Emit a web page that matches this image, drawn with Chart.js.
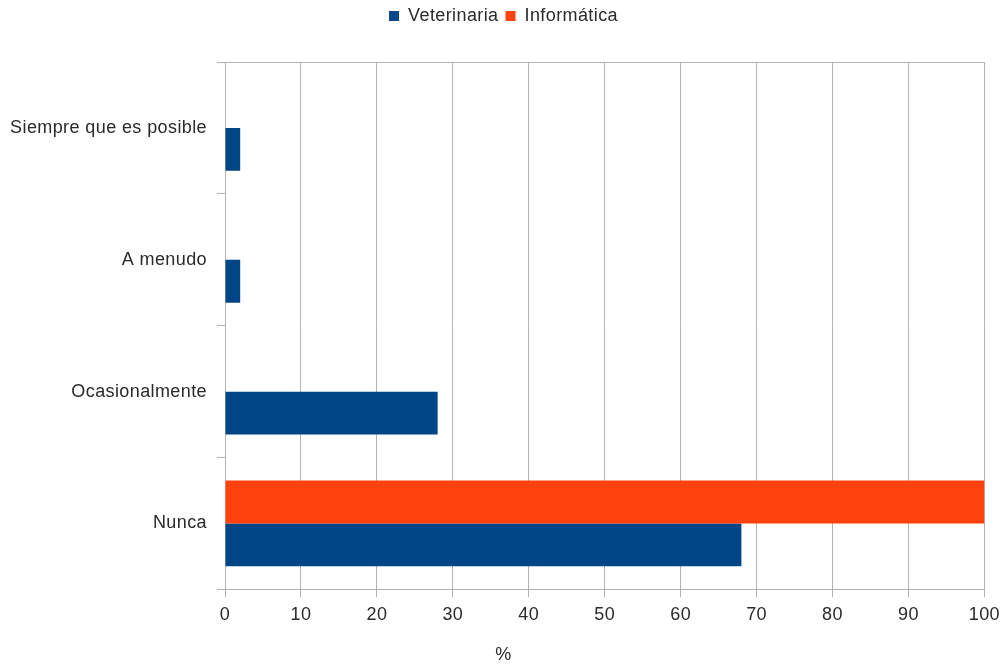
<!DOCTYPE html>
<html>
<head>
<meta charset="utf-8">
<script src="https://cdn.jsdelivr.net/npm/chart.js@4/dist/chart.umd.min.js"></script>
<style>
html,body{margin:0;padding:0;background:#fff;}
#wrap{width:1007px;height:668px;position:relative;}
</style>
</head>
<body>
<div id="wrap"><canvas id="c" width="1007" height="668"></canvas></div>
<script>
const categories = ["Siempre que es posible", "A menudo", "Ocasionalmente", "Nunca"];
const veterinaria = [2, 2, 28, 68];
const informatica = [0, 0, 0, 100];
const xTicks = [0, 10, 20, 30, 40, 50, 60, 70, 80, 90, 100];

const FONT = "'Liberation Sans', Arial, sans-serif";
const TXT = '#2a2a2a';
const GRID = '#b3b3b3';
const LS = '0.4px';

const fixLayout = {
  id: 'fixLayout',
  beforeUpdate(chart) { chart.ctx.letterSpacing = LS; },
  beforeLayout(chart) {
    chart.ctx.letterSpacing = LS;
    const lg = chart.legend;
    if (lg && !lg._patched) {
      const orig = lg.fit.bind(lg);
      lg.fit = function () { orig(); this.height = 62; };
      lg._patched = true;
    }
  },
  afterLayout(chart) {
    for (const b of [chart.legend, chart.titleBlock]) {
      if (b) { b.left = 0; b.right = 1007; b.width = 1007; }
    }
  },
  beforeDraw(chart) { chart.ctx.letterSpacing = LS; }
};

new Chart(document.getElementById('c'), {
  type: 'bar',
  data: {
    labels: categories,
    datasets: [
      { label: 'Informática', data: informatica, backgroundColor: '#ff420e', borderWidth: 0 },
      { label: 'Veterinaria', data: veterinaria, backgroundColor: '#004586', borderWidth: 0 }
    ]
  },
  options: {
    indexAxis: 'y',
    responsive: false,
    animation: false,
    devicePixelRatio: 1,
    layout: { padding: { left: 0, right: 21, top: 0, bottom: 0 } },
    datasets: { bar: { categoryPercentage: 0.65, barPercentage: 1 } },
    plugins: {
      legend: {
        position: 'top',
        reverse: true,
        labels: {
          font: { family: FONT, size: 18 },
          color: TXT,
          boxWidth: 10,
          boxHeight: 10,
          padding: 7
        }
      },
      title: {
        display: true,
        position: 'bottom',
        text: '%',
        font: { family: FONT, size: 18, weight: 'normal' },
        color: TXT,
        padding: { top: 0, bottom: 2 }
      },
      tooltip: { enabled: false }
    },
    scales: {
      x: {
        min: 0, max: 100,
        afterBuildTicks(s) { s.ticks = xTicks.map(v => ({ value: v })); },
        afterFit(s) { s.height = 55; },
        grid: { color: GRID, tickColor: GRID, tickLength: 8, lineWidth: 1 },
        border: { color: GRID },
        ticks: { font: { family: FONT, size: 18 }, color: TXT, padding: 7 }
      },
      y: {
        afterFit(s) { s.width = 225; },
        grid: {
          offset: true,
          color: (ctx) => ctx.index === 0 ? GRID : 'rgba(0,0,0,0)',
          tickColor: GRID,
          tickLength: 8
        },
        border: { color: GRID },
        ticks: { font: { family: FONT, size: 18 }, color: TXT, padding: 10 }
      }
    }
  },
  plugins: [fixLayout]
});
</script>
</body>
</html>
